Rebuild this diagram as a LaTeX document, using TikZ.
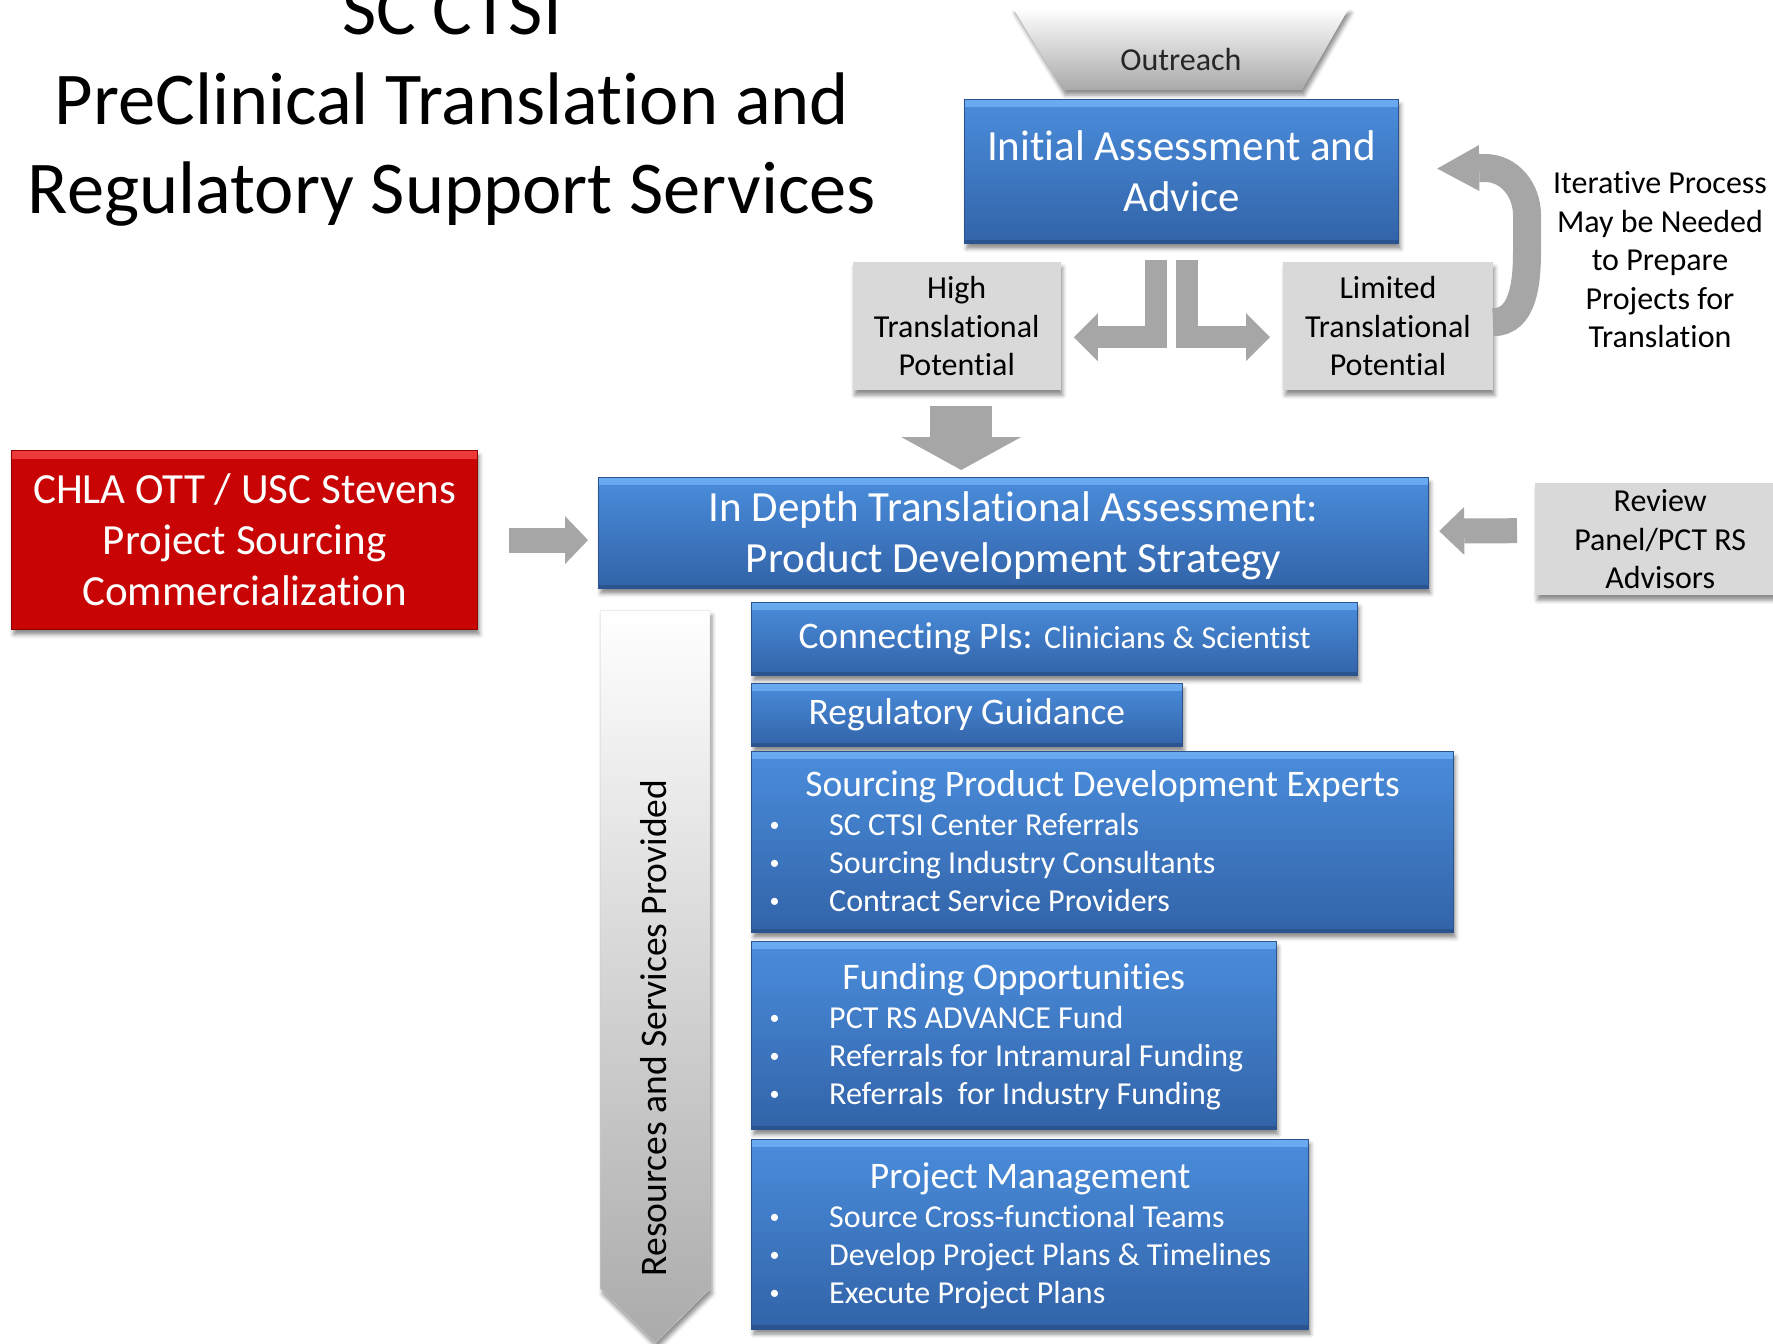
\documentclass[tikz,border=0pt]{standalone}
\usepackage{fontspec}
\setmainfont[Ligatures=NoCommon]{Carlito}
\usepackage{tikz}
\usetikzlibrary{
  arrows.meta,
  positioning,
  calc,
  shadows.blur
}
\definecolor{CtsiBlueTop}{HTML}{4A8DDC}
\definecolor{CtsiBlueBot}{HTML}{3263A8}
\definecolor{CtsiBlueEdge}{HTML}{2A5390}
\definecolor{CtsiBlueLight}{HTML}{6AAAF0}
\definecolor{CtsiRed}{HTML}{C80404}
\definecolor{CtsiRedLight}{HTML}{EE3A3A}
\definecolor{CtsiRedEdge}{HTML}{900000}
\definecolor{CtsiPanel}{HTML}{D9D9D9}
\definecolor{CtsiArrow}{HTML}{A6A6A6}
\definecolor{CtsiFunnel}{HTML}{A9A9A9}

\newcommand\fsTitle{\fontsize{74.5pt}{89pt}\selectfont}
\newcommand\fsBig{\fontsize{43pt}{51pt}\selectfont}
\newcommand\fsMid{\fontsize{37.5pt}{44pt}\selectfont}
\newcommand\fsSmall{\fontsize{32pt}{38.5pt}\selectfont}
\newcommand\itemdot{\raisebox{4pt}{\fontsize{20pt}{20pt}\selectfont\textbullet}}

\begin{document}
\begin{tikzpicture}[
    x=1pt, y=-1pt,
    every node/.style={inner sep=0pt},
    boxshadow/.style={blur shadow={shadow xshift=2pt, shadow yshift=-5pt,
        shadow blur radius=4pt, shadow opacity=45}},
    bluebox/.style={anchor=north west, align=center, text=white,
      draw=CtsiBlueEdge, line width=1.2pt,
      top color=CtsiBlueTop, bottom color=CtsiBlueBot, boxshadow,
      path picture={
        \shade[top color=CtsiBlueLight, bottom color=CtsiBlueTop]
          (path picture bounding box.north west)
          rectangle ([yshift=-7pt]path picture bounding box.north east);
        \fill[CtsiBlueEdge]
          (path picture bounding box.south west)
          rectangle ([yshift=4pt]path picture bounding box.south east);
      }},
    redbox/.style={anchor=north west, align=center, text=white,
      draw=CtsiRedEdge, line width=1.2pt, fill=CtsiRed, boxshadow,
      font=\fsBig,
      path picture={
        \shade[top color=CtsiRedLight, bottom color=CtsiRed]
          (path picture bounding box.north west)
          rectangle ([yshift=-8pt]path picture bounding box.north east);
      }},
    graybox/.style={anchor=north west, align=center, fill=CtsiPanel,
      font=\fsSmall, boxshadow},
    listhead/.style={anchor=base, text=white, font=\fsMid},
    listitem/.style={anchor=base west, text=white, font=\fsSmall,
      execute at begin node={\llap{\itemdot\hspace{49.5pt}}}},
    titleline/.style={anchor=base, font=\fsTitle},
    blockarrow/.style n args={3}{draw=CtsiArrow, line width=#1,
      -{Triangle[width=#2, length=#3, line width=0pt]}}
  ]
    \path[use as bounding box, clip] (0,0) rectangle (1773,1344);

    % heading
    \foreach \ty/\tline [count=\n] in {
      34/{SC CTSI},
      124.5/{PreClinical Translation and},
      213/{Regulatory Support Services}
    }{
      \node[titleline] (title-\n) at (452,\ty) {\tline};
    }

    % outreach funnel
    \shade[top color=white, bottom color=CtsiFunnel, boxshadow]
      (1013,8) -- (1349,8) -- (1302,90) -- (1063,90) -- cycle;
    \node[anchor=base, font=\fsSmall, text=black!85] (outreach) at (1181,70) {Outreach};

    % assessment boxes
    \node[bluebox, font=\fsBig, minimum width=434pt, minimum height=144pt]
      (initial) at (964,99) {Initial Assessment and\\Advice};
    \node[graybox, minimum width=208pt, minimum height=128pt]
      (high) at (852.5,262) {High\\Translational\\Potential};
    \node[graybox, minimum width=209.5pt, minimum height=128pt]
      (limited) at (1283,262) {Limited\\Translational\\Potential};
    \node[bluebox, font=\fsBig, minimum width=830pt, minimum height=111pt]
      (indepth) at (598,477) {\strut In Depth Translational Assessment:\\Product Development Strategy};
    \node[redbox, minimum width=466pt, minimum height=179pt]
      (chla) at (11,450) {CHLA OTT / USC Stevens\\Project Sourcing\\Commercialization};
    \node[graybox, minimum width=250pt, minimum height=112pt]
      (review) at (1535,483) {Review\\Panel/PCT RS\\Advisors};
    \node[align=center, font=\fsSmall] (iterative) at (1660,260)
      {Iterative Process\\May be Needed\\to Prepare\\Projects for\\Translation};

    % block arrows
    \draw[blockarrow={22pt}{48pt}{24pt}]
      ($(initial.south)+(-25.5,16)$) |- ($(high.east)+(13,11)$);
    \draw[blockarrow={22pt}{48pt}{24pt}]
      ($(initial.south)+(5.5,16)$) |- ($(limited.west)+(-13,11)$);
    \draw[blockarrow={62pt}{120pt}{33pt}]
      ($(high.south)+(4.5,16)$) -- ($(high.south |- indepth.north)+(4.5,-7)$);
    \draw[blockarrow={25pt}{48pt}{23pt}]
      ($(chla.east)+(31,0)$) -- ($(indepth.west |- chla.east)+(-10,0)$);
    \draw[blockarrow={25pt}{48pt}{25pt}]
      ($(review.west)+(-18,-8.5)$) -- ($(indepth.east)+(10,-2)$);
    \draw[blockarrow={28pt}{46pt}{42pt}]
      ($(limited.east)+(0,-4)$) to[out=0, in=-90] (1527,250) -- (1527,215)
      to[out=90, in=0] (1485,168) -- ($(initial.east)+(38,-3)$);

    % resources band
    \shade[top color=white, bottom color=black!33, draw=black!20, boxshadow]
      (600.5,610.5) -- (710,610.5) -- (710,1289) -- (655.5,1343) -- (600.5,1289) -- cycle;
    \node[rotate=90, font=\fsMid] (resources) at (654,1028) {Resources and Services Provided};

    % services
    \node[bluebox, font=\fsMid, minimum width=606pt, minimum height=73.5pt]
      (connect) at (751,601.5) {Connecting PIs: {\fsSmall Clinicians \& Scientist}};
    \node[bluebox, font=\fsMid, minimum width=430.5pt, minimum height=63pt]
      (regul) at (751,683) {Regulatory Guidance};
    \node[bluebox, minimum width=702pt, minimum height=181pt] (experts) at (751,751) {};
    \node[bluebox, minimum width=524.5pt, minimum height=188pt] (funding) at (751,941) {};
    \node[bluebox, minimum width=557pt, minimum height=190pt] (pm) at (751,1138.5) {};

    \foreach \blk/\dy/\head/\one/\two/\three in {
      experts/0/{Sourcing Product Development Experts}/{SC CTSI Center Referrals}/{Sourcing Industry Consultants}/{Contract Service Providers},
      funding/3/{Funding Opportunities}/{PCT RS ADVANCE Fund}/{Referrals for Intramural Funding}/{Referrals\ \ for Industry Funding},
      pm/4.5/{Project Management}/{Source Cross-functional Teams}/{Develop Project Plans \& Timelines}/{Execute Project Plans}
    }{
      \node[listhead] (\blk-head) at ($(\blk.north)+(0,45+\dy)$) {\head};
      \node[listitem] (\blk-1) at ($(\blk.north west)+(78,84+\dy)$) {\one};
      \node[listitem] (\blk-2) at ($(\blk.north west)+(78,122.5+\dy)$) {\two};
      \node[listitem] (\blk-3) at ($(\blk.north west)+(78,160.5+\dy)$) {\three};
    }
  \end{tikzpicture}
\end{document}
